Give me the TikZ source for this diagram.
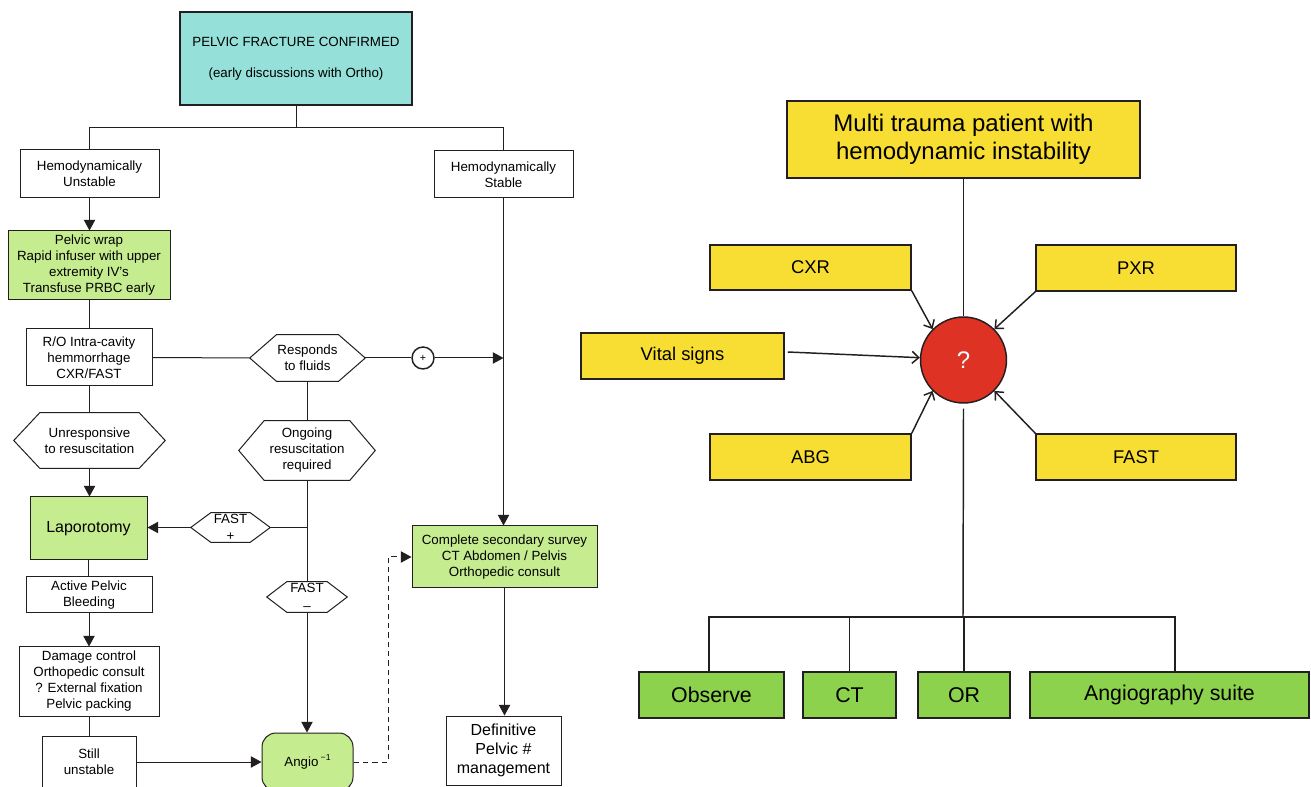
\documentclass[tikz,border=0pt]{standalone}
\usepackage{fontspec}
\setmainfont{Liberation Sans}
\usetikzlibrary{arrows.meta,calc}

\definecolor{edge}{HTML}{231F20}
\definecolor{aqua}{HTML}{96E0DA}
\definecolor{palegreen}{HTML}{C6EC90}
\definecolor{sun}{HTML}{F8DD33}
\definecolor{alarm}{HTML}{DD3224}
\definecolor{leaf}{HTML}{8CD24C}

% outline of a hexagonal decision node: #1 node name, #2 inset of the flat edges
\newcommand\hexshape[2]{%
  \draw[hexline] (#1.west) -- ([xshift=#2]#1.north west) -- ([xshift=-#2]#1.north east)
    -- (#1.east) -- ([xshift=-#2]#1.south east) -- ([xshift=#2]#1.south west) -- cycle;}

\begin{document}
\begin{tikzpicture}[x=0.75pt,y=-0.75pt,
  % area={x1}{y1}{x2}{y2}: node spanning the given corners (pixel grid)
  area/.style n args={4}{at={(0.5*#1+0.5*#3,0.5*#2+0.5*#4)},
     minimum width={(#3-#1)*0.75pt}, minimum height={(#4-#2)*0.75pt}},
  lbox/.style={draw=edge, line width=0.75pt, fill=white, inner sep=0pt, align=center,
               text=black, font=\fontsize{10}{12}\selectfont},
  gbox/.style={lbox, fill=palegreen},
  hexn/.style={inner sep=0pt, align=center, text=black, font=\fontsize{10}{12}\selectfont},
  hexline/.style={draw=edge, line width=0.75pt},
  flow/.style={draw=edge, line width=0.75pt},
  arr/.style={flow, -{Triangle[length=8pt,width=8.5pt]}},
  ybox/.style={draw=edge, line width=1.1pt, fill=sun, inner sep=0pt, align=center,
               text=black, font=\fontsize{13.8}{16}\selectfont},
  obox/.style={draw=edge, line width=1.1pt, fill=leaf, inner sep=0pt, align=center,
               text=black, font=\fontsize{16}{19}\selectfont},
  rline/.style={draw=edge, line width=1.1pt},
  rarr/.style={rline, -{Straight Barb[length=5pt,width=9pt]}}
]
\useasboundingbox (0,0) rectangle (1311,787);
\fill[white] (0,0) rectangle (1311,787);
\clip (0,0) rectangle (1311,787);

% ---------------- pelvic fracture pathway ----------------
\node[lbox, line width=2pt, fill=aqua, area={180}{12}{412}{105}] (top)
  {PELVIC FRACTURE CONFIRMED\\[11pt](early discussions with Ortho)};
\node[lbox, area={20}{150}{159}{198}] (unst) {Hemodynamically\\Unstable};
\node[lbox, area={434}{151}{573}{198}] (stab) {Hemodynamically\\Stable};
\node[gbox, area={8}{231}{170}{300}] (wrap)
  {Pelvic wrap\\Rapid infuser with upper\\extremity IV’s\\Transfuse PRBC early};
\node[lbox, area={26}{329}{152}{386}] (ro) {R/O Intra-cavity\\hemmorrhage\\CXR/FAST};
\node[hexn, area={250}{335}{365}{381}] (resp) {Responds\\to fluids};
\hexshape{resp}{20pt}
\node[circle, draw=edge, line width=1.1pt, minimum size=16.5pt, inner sep=0pt,
      font=\fontsize{8}{8}\selectfont] (plus) at (423,358) {+};
\node[hexn, area={14}{413}{165}{468}] (unr) {Unresponsive\\to resuscitation};
\hexshape{unr}{19.5pt}
\node[hexn, area={239}{421}{375}{480}] (ong) {Ongoing\\resuscitation\\required};
\hexshape{ong}{19pt}
\node[gbox, font=\fontsize{12}{14}\selectfont, area={30}{497}{147}{560}] (lap) {Laporotomy};
\node[hexn, area={191}{513}{270}{542}] (fastp) {FAST\\[1pt]+};
\hexshape{fastp}{15pt}
\node[hexn, area={267}{582}{347}{612}] (fastm) {FAST\\[1pt]–};
\hexshape{fastm}{15pt}
\node[lbox, area={26}{577}{152}{613}] (act) {Active Pelvic\\Bleeding};
\node[lbox, area={19}{647}{159}{716}] (dmg)
  {Damage control\\Orthopedic consult\\? External fixation\\Pelvic packing};
\node[lbox, area={42}{736}{136}{788}] (still) {Still\\unstable};
\node[gbox, rounded corners=10.5pt, area={262}{733}{353}{791}] (angio)
  {Angio\,\raisebox{0.8ex}{\fontsize{6.5}{7}\selectfont −1}};
\node[gbox, area={412}{526}{597}{588}] (sec)
  {Complete secondary survey\\CT Abdomen / Pelvis\\Orthopedic consult};
\node[lbox, font=\fontsize{12}{14.5}\selectfont, area={446}{716}{561}{785}] (def)
  {Definitive\\Pelvic \#\\management};

\draw[flow] (top.south) -- ++(0,21) coordinate (split);
\draw[flow] (unst.north) |- (split) -| (stab.north);
\draw[arr] (unst.south) -- (unst.south |- wrap.north);
\draw[flow] (wrap.south) -- (wrap.south |- ro.north);
\draw[flow] (ro.east) -- (resp.west);
\draw[flow] (resp.east) -- (plus.west);
\draw[arr] (plus.east) -- (plus.east -| stab.south);
\draw[arr] (stab.south) -- (stab.south |- sec.north);
\draw[flow] (ro.south) -- (ro.south |- unr.north);
\draw[arr] (unr.south) -- (unr.south |- lap.north);
\draw[flow] (resp.south) -- (resp.south |- ong.north);
\draw[flow] (ong.south) -- (ong.south |- fastm.north);
\coordinate (tee) at (ong.south |- fastp.east);
\draw[flow] (tee) -- (fastp.east);
\draw[arr] (fastp.west) -- (fastp.west -| lap.east);
\draw[arr] (fastm.south) -- (fastm.south |- angio.north);
\draw[flow] (lap.south) -- (lap.south |- act.north);
\draw[arr] (act.south) -- (act.south |- dmg.north);
\draw[flow] (dmg.south) -- (dmg.south |- still.north);
\draw[arr] (still.east |- angio.west) -- (angio.west);
\coordinate (dbend) at (388,762);
\draw[arr, dash pattern=on 4pt off 3pt] (angio.east) -- (dbend) |- (sec.west);
\draw[arr] (sec.south) -- (sec.south |- def.north);

% ---------------- unstable multi-trauma decision ----------------
\node[ybox, font=\fontsize{18}{21}\selectfont, area={787}{101}{1140}{178}] (mt)
  {Multi trauma patient with\\hemodynamic instability};
\node[circle, draw=edge, line width=1.1pt, fill=alarm, minimum size=64.5pt, inner sep=0pt,
      text=white, font=\fontsize{18}{18}\selectfont] (q) at (963.5,360) {?};
\node[ybox, area={710}{245}{911}{290}] (cxr) {CXR};
\node[ybox, area={1036}{245}{1236}{291}] (pxr) {PXR};
\node[ybox, area={581}{333}{784}{379}] (vit) {Vital signs};
\node[ybox, area={710}{434}{911}{480}] (abg) {ABG};
\node[ybox, area={1036}{434}{1236}{480}] (fast) {FAST};

\draw[rline] (mt.south) -- (q.north);
\draw[rarr] (cxr.south east) -- (q.135);
\draw[rarr] (pxr.south west) -- (q.45);
\draw[rarr] ([shift={(3,-4)}]vit.east) -- (q.177);
\draw[rarr] (abg.north east) -- (q.225);
\draw[rarr] (fast.north west) -- (q.315);

\node[obox, area={639}{672}{784}{718}] (obs) {Observe};
\node[obox, area={803}{672}{896}{718}] (ct) {CT};
\node[obox, area={918}{672}{1010}{718}] (ornode) {OR};
\node[obox, line width=1.6pt, area={1030}{672}{1309}{718}] (suite) {Angiography suite};

\coordinate (hub) at (963,617);
\draw[rline] ([yshift=-3.75pt]q.south) -- (hub);
\draw[rline] ([xshift=-2pt]obs.north) |- (hub) -| ([xshift=4pt]suite.north);
\draw[rline] (ct.north) -- (ct.north |- hub);
\draw[rline] (ornode.north) -- (ornode.north |- hub);
\end{tikzpicture}
\end{document}
